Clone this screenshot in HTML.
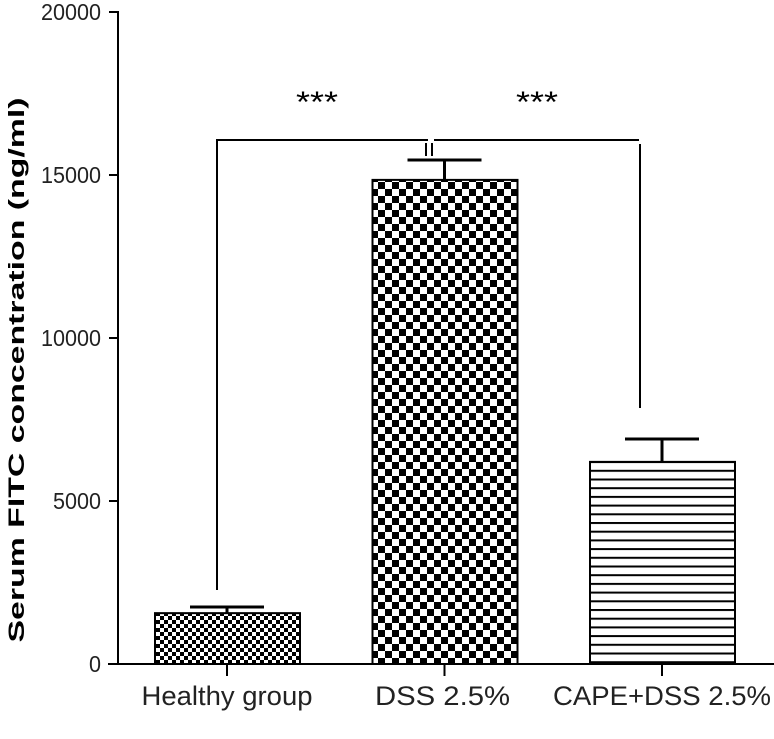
<!DOCTYPE html>
<html><head><meta charset="utf-8"><style>html,body{margin:0;padding:0;background:#fff}svg{display:block}</style></head>
<body>
<svg id="chart" width="774" height="739" viewBox="0 0 774 739" xmlns="http://www.w3.org/2000/svg" font-family="Liberation Sans, Arial, sans-serif">
<defs>
<pattern id="pHealthy" width="8" height="8" patternUnits="userSpaceOnUse"><rect width="8" height="8" fill="#fff"/><rect width="4" height="4" fill="#000"/><rect x="4" y="4" width="4" height="4" fill="#000"/></pattern>
<pattern id="pDss" width="14" height="14" patternUnits="userSpaceOnUse"><rect width="14" height="14" fill="#fff"/><rect width="7" height="7" fill="#000"/><rect x="7" y="7" width="7" height="7" fill="#000"/></pattern>
<pattern id="pCape" width="8.7" height="8.7" patternUnits="userSpaceOnUse"><rect width="8.7" height="8.7" fill="#fff"/><rect y="0" width="8.7" height="2" fill="#000"/></pattern>
</defs>
<g id="axes"></g>
<g id="bars"></g>
<text x="0" y="0" transform="translate(24,370) rotate(-90)" text-anchor="middle" font-weight="bold" font-size="22" textLength="545" lengthAdjust="spacingAndGlyphs">Serum FITC concentration (ng/ml)</text>
<g stroke="#000" stroke-width="2" fill="none">
<polyline points="217,590 217,140 428,140"/>
<polyline points="434,140 639,140"/>
<line x1="640" y1="144" x2="640" y2="408"/>
<line x1="426" y1="143" x2="426" y2="156"/>
<line x1="432" y1="143" x2="432" y2="156"/>
</g>
<text x="317" y="112" text-anchor="middle" font-size="30" textLength="42" lengthAdjust="spacingAndGlyphs">***</text>
<text x="537" y="112" text-anchor="middle" font-size="30" textLength="42" lengthAdjust="spacingAndGlyphs">***</text>
</svg>
<script>
const categories = ["Healthy group", "DSS 2.5%", "CAPE+DSS 2.5%"];
const means = [1560, 14850, 6200];
const errors = [190, 610, 700];
const yTicks = [0, 5000, 10000, 15000, 20000];
const fills = ["url(#pHealthy)", "url(#pDss)", "url(#pCape)"];
const labelWidths = [171, 135, 218];
const NS = "http://www.w3.org/2000/svg";
const y = v => 664 - v / 20000 * 652;
const xc = i => 227 + i * 217.5;
const axes = document.getElementById('axes');
const bars = document.getElementById('bars');
function mk(tag, attrs, parent){const e=document.createElementNS(NS,tag);for(const k in attrs)e.setAttribute(k,attrs[k]);parent.appendChild(e);return e;}
const ya = mk('line',{x1:118,y1:11,x2:118,y2:665,stroke:'#000','stroke-width':2},axes);


const xa = mk('line',{x1:108,y1:664,x2:774,y2:664,stroke:'#000','stroke-width':2},axes);


yTicks.forEach(t=>{
  const l = mk('line',{x1:109,y1:y(t),x2:118,y2:y(t),stroke:'#000','stroke-width':2},axes);
  
  
  const s = String(t);
  const tx = mk('text',{x:101,y:y(t)+8,'text-anchor':'end','font-size':23,textLength:s.length*12,lengthAdjust:'spacingAndGlyphs',fill:'#222'},axes);
  tx.textContent = s;
  
  
});
categories.forEach((c,i)=>{
  const cx = xc(i);
  const tk = mk('line',{x1:cx,y1:664,x2:cx,y2:676,stroke:'#000','stroke-width':2},axes);
  
  
  const lbl = mk('text',{x:cx+[0,-2,0][i],y:705,'text-anchor':'middle','font-size':27,textLength:labelWidths[i],lengthAdjust:'spacingAndGlyphs',fill:'#222'},axes);
  lbl.textContent = c;
  
  
  const b = mk('rect',{x:cx-72,y:y(means[i]),width:145,height:664-y(means[i]),fill:fills[i],stroke:'#000','stroke-width':2},bars);
  
  
  const top = y(means[i]+errors[i]);
  const ev = mk('line',{x1:cx,y1:y(means[i]),x2:cx,y2:top,stroke:'#000','stroke-width':3},bars);
  
  
  const ec = mk('line',{x1:cx-37,y1:top,x2:cx+37,y2:top,stroke:'#000','stroke-width':3},bars);
  
  
});
</script>
</body></html>
